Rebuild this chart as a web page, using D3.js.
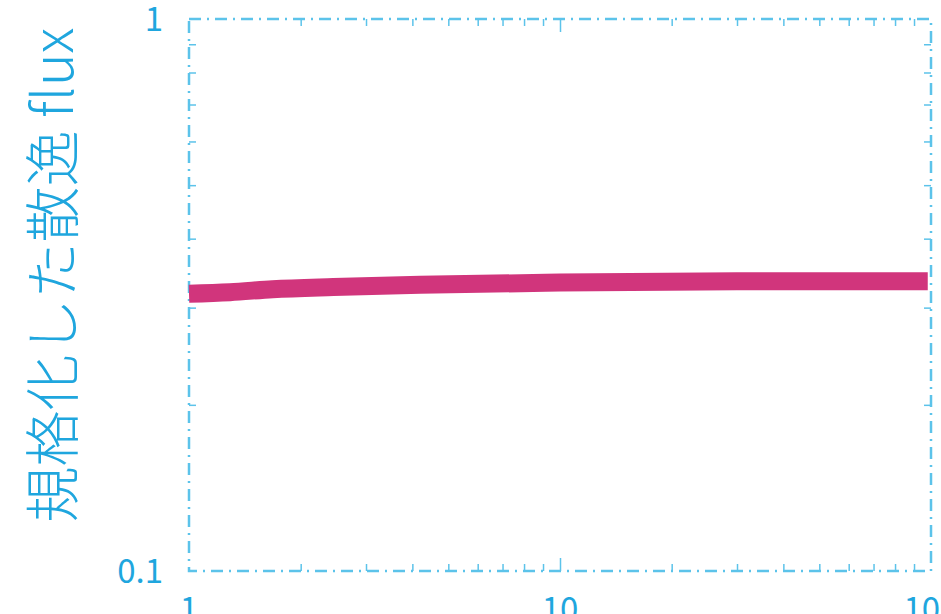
<!DOCTYPE html>
<html>
<head>
<meta charset="utf-8">
<script src="https://cdn.jsdelivr.net/npm/d3@7"></script>
<style>
  body { margin: 0; background: #fff; }
  text { font-family: "Noto Sans CJK JP", "Noto Sans", sans-serif; }
</style>
</head>
<body>
<div id="viz"></div>
<script>
// flux curve
var fluxX = [1, 1.29, 1.68, 2.45, 4.2, 10, 30, 98];
var fluxY = [0.318, 0.320, 0.324, 0.327, 0.330, 0.333, 0.335, 0.335];

var xTickValues = [1, 10, 100];
var xTickLabels = ["1", "10", "100"];
var yTickValues = [0.1, 1];
var yTickLabels = ["0.1", "1"];
var yLabel = "規格化した散逸 flux";

var margin = {top: 19, right: 10, bottom: 43, left: 189},
    width = 941 - margin.left - margin.right,
    height = 614 - margin.top - margin.bottom;

var blue = "#1fa6de",
    frameBlue = "#5cc3ea",
    magenta = "#d1357c";

var svg = d3.select("#viz")
    .append("svg")
    .attr("width", width + margin.left + margin.right)
    .attr("height", height + margin.top + margin.bottom)
    .append("g")
    .attr("transform", "translate(" + margin.left + "," + margin.top + ")");

var x = d3.scaleLog()
    .domain([1, 100])
    .range([0, width]);

var y = d3.scaleLog()
    .domain([0.1, 1])
    .range([height, 0]);

// minor ticks inside the frame (2..9 per decade)
var xMinor = [], yMinor = [];
[1, 10].forEach(function (d) {
    for (var i = 2; i <= 9; i++) xMinor.push(d * i);
});
for (var i = 2; i <= 9; i++) yMinor.push(0.1 * i);

var tickStyle = function (g) {
    g.select(".domain").remove();
    g.selectAll(".tick line").attr("stroke", frameBlue).attr("stroke-width", 1.5);
    g.selectAll(".tick text").remove();
};

svg.append("g")
    .attr("transform", "translate(0," + height + ")")
    .call(d3.axisTop(x).tickValues(xMinor).tickSize(7))
    .call(tickStyle);
svg.append("g")
    .call(d3.axisBottom(x).tickValues(xMinor).tickSize(7))
    .call(tickStyle);
svg.append("g")
    .attr("transform", "translate(0," + height + ")")
    .call(d3.axisTop(x).tickValues([10]).tickSize(13))
    .call(tickStyle);
svg.append("g")
    .call(d3.axisBottom(x).tickValues([10]).tickSize(13))
    .call(tickStyle);
svg.append("g")
    .call(d3.axisRight(y).tickValues(yMinor).tickSize(7))
    .call(tickStyle);
svg.append("g")
    .attr("transform", "translate(" + width + ",0)")
    .call(d3.axisLeft(y).tickValues(yMinor).tickSize(7))
    .call(tickStyle);

// dash-dot frame
svg.append("rect")
    .attr("x", 0)
    .attr("y", 0)
    .attr("width", width)
    .attr("height", height)
    .attr("fill", "none")
    .attr("stroke", frameBlue)
    .attr("stroke-width", 2.5)
    .attr("stroke-dasharray", "12,6,2,6");

// tick labels (bottom row is cut by the page edge, as in the original)
svg.selectAll(".xlab")
    .data(xTickValues)
    .enter()
    .append("text")
    .attr("class", "xlab")
    .attr("x", function (d) { return x(d); })
    .attr("y", height + 50)
    .attr("text-anchor", "middle")
    .attr("fill", blue)
    .attr("font-size", 33)
    .text(function (d, i) { return xTickLabels[i]; });

svg.selectAll(".ylab")
    .data(yTickValues)
    .enter()
    .append("text")
    .attr("class", "ylab")
    .attr("x", -26)
    .attr("y", function (d) { return y(d); })
    .attr("dy", "0.36em")
    .attr("text-anchor", "end")
    .attr("fill", blue)
    .attr("font-size", 33)
    .text(function (d, i) { return yTickLabels[i]; });

// axis title
svg.append("text")
    .attr("transform", "translate(" + (-116) + "," + 256 + ") rotate(-90)")
    .attr("text-anchor", "middle")
    .attr("fill", blue)
    .attr("font-size", 56)
    .attr("font-weight", 300)
    .text(yLabel);

// the curve
svg.append("path")
    .datum(fluxX.map(function (d, i) { return [d, fluxY[i]]; }))
    .attr("fill", "none")
    .attr("stroke", magenta)
    .attr("stroke-width", 18)
    .attr("d", d3.line()
        .curve(d3.curveMonotoneX)
        .x(function (d) { return x(d[0]); })
        .y(function (d) { return y(d[1]); })
    );
</script>
</body>
</html>
